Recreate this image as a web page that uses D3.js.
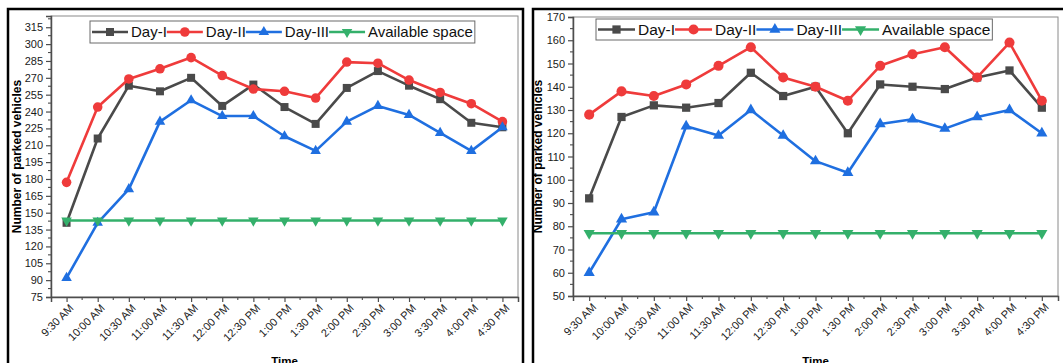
<!DOCTYPE html>
<html>
<head>
<meta charset="utf-8">
<script src="https://cdn.jsdelivr.net/npm/d3@7"></script>
<style>
  body { margin: 0; background: #fff; }
  svg { display: block; font-family: Arial, "Liberation Sans", sans-serif; }
</style>
</head>
<body>
<svg id="chart" width="1063" height="363"></svg>
<script>
// ---- data ----
const times = ["9:30 AM", "10:00 AM", "10:30 AM", "11:00 AM", "11:30 AM", "12:00 PM", "12:30 PM",
               "1:00 PM", "1:30 PM", "2:00 PM", "2:30 PM", "3:00 PM", "3:30 PM", "4:00 PM", "4:30 PM"];
const seriesNames = ["Day-I", "Day-II", "Day-III", "Available space"];

// left parking lot
const leftDayI   = [141, 216, 263, 258, 270, 245, 264, 244, 229, 261, 276, 263, 251, 230, 226];
const leftDayII  = [177, 244, 269, 278, 288, 272, 260, 258, 252, 284, 283, 268, 257, 247, 231];
const leftDayIII = [92, 141, 171, 231, 250, 236, 236, 218, 205, 231, 245, 237, 221, 205, 226];
const leftSpace  = [143, 143, 143, 143, 143, 143, 143, 143, 143, 143, 143, 143, 143, 143, 143];
const leftYTicks = [75, 90, 105, 120, 135, 150, 165, 180, 195, 210, 225, 240, 255, 270, 285, 300, 315];
const leftYDomain = [75, 325];

// right parking lot
const rightDayI   = [92, 127, 132, 131, 133, 146, 136, 140, 120, 141, 140, 139, 144, 147, 131];
const rightDayII  = [128, 138, 136, 141, 149, 157, 144, 140, 134, 149, 154, 157, 144, 159, 134];
const rightDayIII = [60, 83, 86, 123, 119, 130, 119, 108, 103, 124, 126, 122, 127, 130, 120];
const rightSpace  = [77, 77, 77, 77, 77, 77, 77, 77, 77, 77, 77, 77, 77, 77, 77];
const rightYTicks = [50, 60, 70, 80, 90, 100, 110, 120, 130, 140, 150, 160, 170];
const rightYDomain = [50, 170];

// ---- styles ----
const colors = ["#4a4a4a", "#ef3b3b", "#1f6fe0", "#34b06b"];
const symbolTypes = [d3.symbolSquare, d3.symbolCircle, d3.symbolTriangle, d3.symbolTriangle];
const symbolRotate = [0, 0, 0, 180];

const svg = d3.select("#chart");

function drawPanel(cfg) {
  const g = svg.append("g");

  // outer panel frame
  g.append("rect")
    .attr("x", cfg.box[0]).attr("y", cfg.box[1])
    .attr("width", cfg.box[2]).attr("height", cfg.box[3])
    .attr("fill", "none").attr("stroke", "#000").attr("stroke-width", 2.5);

  const x = d3.scalePoint().domain(times).range([cfg.left, cfg.right]).padding(0.5);
  const y = d3.scaleLinear().domain(cfg.yDomain).range([cfg.bottom, cfg.top]);

  // plot frame (top / right)
  g.append("rect")
    .attr("x", cfg.left).attr("y", cfg.top)
    .attr("width", cfg.right - cfg.left).attr("height", cfg.bottom - cfg.top)
    .attr("fill", "none").attr("stroke", "#8a8a8a").attr("stroke-width", 1);

  const axisColor = "#4d4d4d";

  // y axis
  const yAxis = d3.axisLeft(y).tickValues(cfg.yTicks).tickSize(5).tickPadding(3);
  const ya = g.append("g").attr("transform", `translate(${cfg.left},0)`).call(yAxis);
  ya.select(".domain").attr("stroke", axisColor).attr("stroke-width", 1.5);
  ya.selectAll(".tick line").attr("stroke", axisColor).attr("stroke-width", 1.2);
  ya.selectAll(".tick text").attr("font-size", 11).attr("fill", "#1a1a1a")
    .attr("font-family", "Arial, 'Liberation Sans', sans-serif");
  // y minor ticks
  const step = cfg.yTicks[1] - cfg.yTicks[0];
  const yMinor = cfg.yTicks.map(v => v + step / 2).filter(v => v < cfg.yDomain[1]);
  g.append("g").selectAll("line").data(yMinor).join("line")
    .attr("x1", cfg.left - 3).attr("x2", cfg.left)
    .attr("y1", d => y(d)).attr("y2", d => y(d))
    .attr("stroke", axisColor).attr("stroke-width", 1.1);

  // x axis
  const xAxis = d3.axisBottom(x).tickSize(5).tickFormat("");
  const xa = g.append("g").attr("transform", `translate(0,${cfg.bottom})`).call(xAxis);
  xa.select(".domain").attr("stroke", axisColor).attr("stroke-width", 1.5);
  xa.selectAll(".tick line").attr("stroke", axisColor).attr("stroke-width", 1.2);
  const xMinor = times.slice(1).map((t, i) => (x(times[i]) + x(t)) / 2);
  g.append("g").selectAll("line").data(xMinor).join("line")
    .attr("x1", d => d).attr("x2", d => d)
    .attr("y1", cfg.bottom).attr("y2", cfg.bottom + 3)
    .attr("stroke", axisColor).attr("stroke-width", 1.1);
  g.append("g").selectAll("text").data(times).join("text")
    .attr("transform", d => `translate(${x(d) + 5},${cfg.bottom + 9}) rotate(-45)`)
    .attr("text-anchor", "end")
    .attr("dy", "0.35em")
    .attr("font-size", 11).attr("fill", "#1a1a1a")
    .text(d => d);

  // axis titles
  g.append("text")
    .attr("transform", `translate(${cfg.yTitleX},${(cfg.top + cfg.bottom) / 2}) rotate(-90)`)
    .attr("text-anchor", "middle").attr("font-weight", "bold").attr("font-size", 12)
    .attr("fill", "#000")
    .text("Number of parked vehicles");
  g.append("text")
    .attr("x", (cfg.left + cfg.right) / 2).attr("y", 365)
    .attr("text-anchor", "middle").attr("font-weight", "bold").attr("font-size", 11.5)
    .attr("fill", "#000")
    .text("Time");

  // series
  const line = d3.line().x((d, i) => x(times[i])).y(d => y(d));
  cfg.series.forEach((vals, k) => {
    const sg = g.append("g");
    sg.append("path").datum(vals)
      .attr("d", line).attr("fill", "none")
      .attr("stroke", colors[k]).attr("stroke-width", 2.6)
      .attr("stroke-linejoin", "round");
    const sym = d3.symbol().type(symbolTypes[k]).size(cfg.symSizes[k]);
    sg.selectAll("path.m").data(vals).join("path").attr("class", "m")
      .attr("d", sym)
      .attr("transform", (d, i) => `translate(${x(times[i])},${y(d)}) rotate(${symbolRotate[k]})`)
      .attr("fill", colors[k]);
  });

  // legend
  const lg = g.append("g");
  const lb = lg.append("rect")
    .attr("x", cfg.legend.x).attr("y", cfg.legend.y)
    .attr("height", cfg.legend.h)
    .attr("fill", "#fff").attr("stroke", "#6a6a6a").attr("stroke-width", 1);
  let cx = cfg.legend.x + 2;
  const midY = cfg.legend.y + cfg.legend.h / 2;
  const lineLen = cfg.legend.lineLen;
  seriesNames.forEach((name, k) => {
    lg.append("line")
      .attr("x1", cx).attr("x2", cx + lineLen)
      .attr("y1", midY).attr("y2", midY)
      .attr("stroke", colors[k]).attr("stroke-width", 2.6);
    const sym = d3.symbol().type(symbolTypes[k]).size(cfg.symSizes[k]);
    lg.append("path").attr("d", sym)
      .attr("transform", `translate(${cx + lineLen / 2},${midY}) rotate(${symbolRotate[k]})`)
      .attr("fill", colors[k]);
    const t = lg.append("text")
      .attr("x", cx + lineLen + 3).attr("y", midY)
      .attr("dy", "0.36em")
      .attr("font-size", cfg.legend.fontSize).attr("fill", "#111")
      .text(name);
    cx += lineLen + 3 + t.node().getComputedTextLength();
  });
  lb.attr("width", cx + 2 - cfg.legend.x);
}

drawPanel({
  box: [8, 9, 515, 380],
  left: 51, right: 518, top: 16, bottom: 297,
  yDomain: leftYDomain, yTicks: leftYTicks, yTitleX: 21,
  series: [leftDayI, leftDayII, leftDayIII, leftSpace],
  symSizes: [64, 72, 48, 48],
  legend: { x: 90, y: 21, h: 22, lineLen: 36, fontSize: 15 }
});

drawPanel({
  box: [533, 9, 560, 380],
  left: 573, right: 1058, top: 17, bottom: 296,
  yDomain: rightYDomain, yTicks: rightYTicks, yTitleX: 542,
  series: [rightDayI, rightDayII, rightDayIII, rightSpace],
  symSizes: [68, 80, 54, 54],
  legend: { x: 596, y: 19, h: 21, lineLen: 37, fontSize: 15.5 }
});
</script>
</body>
</html>
